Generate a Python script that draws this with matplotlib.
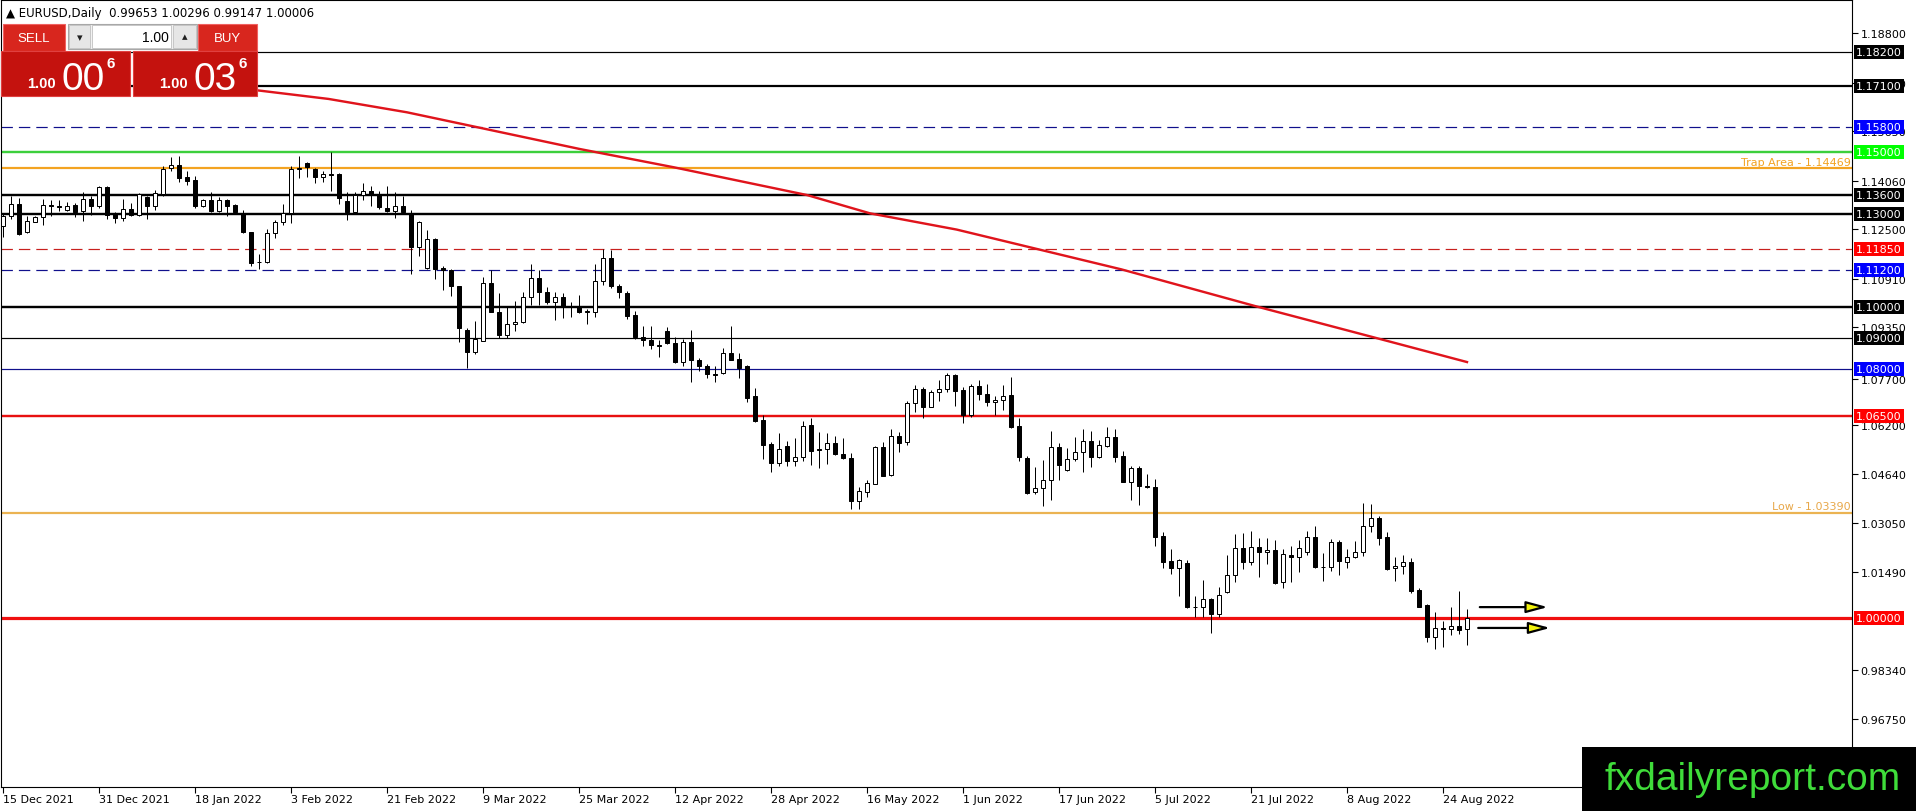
import numpy as np
import matplotlib
matplotlib.use("Agg")
import matplotlib.pyplot as plt
import matplotlib.transforms as mtransforms
from matplotlib.patches import Rectangle

# EURUSD daily candles, 15 Dec 2021 .. 29 Aug 2022
opens = [1.1259, 1.1294, 1.1331, 1.1240, 1.1274, 1.1288, 1.1328, 1.1326, 1.1313, 1.1328,
         1.1310, 1.1347, 1.1326, 1.1386, 1.1302, 1.1285, 1.1315, 1.1297, 1.1353, 1.1326,
         1.1363, 1.1446, 1.1455, 1.1417, 1.1407, 1.1324, 1.1344, 1.1310, 1.1344, 1.1328,
         1.1301, 1.1240, 1.1144, 1.1146, 1.1237, 1.1272, 1.1302, 1.1444, 1.1463, 1.1444,
         1.1417, 1.1428, 1.1428, 1.1340, 1.1306, 1.1361, 1.1372, 1.1361, 1.1317, 1.1310,
         1.1324, 1.1302, 1.1192, 1.1124, 1.1219, 1.1124, 1.1119, 1.1066, 1.0927, 1.0854,
         1.0892, 1.1077, 1.0985, 1.0910, 1.0945, 1.0951, 1.1031, 1.1092, 1.1049, 1.1017,
         1.1031, 1.1004, 1.0999, 1.0985, 1.0983, 1.1085, 1.1157, 1.1066, 1.1045, 1.0974,
         1.0905, 1.0894, 1.0878, 1.0922, 1.0884, 1.0824, 1.0886, 1.0830, 1.0809, 1.0784,
         1.0787, 1.0851, 1.0833, 1.0809, 1.0713, 1.0637, 1.0559, 1.0497, 1.0552, 1.0506,
         1.0519, 1.0621, 1.0543, 1.0543, 1.0563, 1.0527, 1.0513, 1.0377, 1.0404, 1.0431,
         1.0549, 1.0460, 1.0584, 1.0565, 1.0690, 1.0736, 1.0679, 1.0728, 1.0736, 1.0781,
         1.0733, 1.0653, 1.0745, 1.0720, 1.0693, 1.0702, 1.0717, 1.0616, 1.0514, 1.0404,
         1.0417, 1.0444, 1.0549, 1.0476, 1.0511, 1.0533, 1.0570, 1.0519, 1.0552, 1.0581,
         1.0520, 1.0438, 1.0482, 1.0425, 1.0420, 1.0263, 1.0182, 1.0160, 1.0176, 1.0036,
         1.0034, 1.0061, 1.0013, 1.0083, 1.0139, 1.0224, 1.0179, 1.0227, 1.0211, 1.0219,
         1.0115, 1.0203, 1.0195, 1.0211, 1.0259, 1.0165, 1.0165, 1.0243, 1.0179, 1.0195,
         1.0211, 1.0297, 1.0320, 1.0259, 1.0160, 1.0168, 1.0179, 1.0090, 1.0041, 0.9940,
         0.9967, 0.9965, 0.9973, 0.99653]
highs = [1.1299, 1.1358, 1.1349, 1.1294, 1.1294, 1.1347, 1.1345, 1.1345, 1.1337, 1.1334,
         1.1371, 1.1356, 1.1390, 1.1388, 1.1304, 1.1347, 1.1334, 1.1367, 1.1358, 1.1377,
         1.1454, 1.1483, 1.1487, 1.1436, 1.1422, 1.1347, 1.1369, 1.1355, 1.1347, 1.1331,
         1.1313, 1.1242, 1.1172, 1.1251, 1.1280, 1.1331, 1.1454, 1.1487, 1.1467, 1.1446,
         1.1438, 1.1499, 1.1432, 1.1369, 1.1369, 1.1399, 1.1388, 1.1372, 1.1390, 1.1369,
         1.1358, 1.1312, 1.1277, 1.1249, 1.1221, 1.1133, 1.1122, 1.1068, 1.0931, 1.0956,
         1.1095, 1.1119, 1.1045, 1.0999, 1.1020, 1.1047, 1.1138, 1.1120, 1.1064, 1.1047,
         1.1045, 1.1015, 1.1039, 1.0994, 1.1137, 1.1185, 1.1184, 1.1074, 1.1053, 1.0988,
         1.0938, 1.0938, 1.0894, 1.0935, 1.0902, 1.0897, 1.0926, 1.0836, 1.0817, 1.0811,
         1.0867, 1.0940, 1.0851, 1.0815, 1.0738, 1.0654, 1.0565, 1.0595, 1.0568, 1.0579,
         1.0632, 1.0642, 1.0599, 1.0594, 1.0586, 1.0578, 1.0530, 1.0420, 1.0444, 1.0554,
         1.0567, 1.0608, 1.0599, 1.0697, 1.0749, 1.0743, 1.0734, 1.0765, 1.0788, 1.0784,
         1.0742, 1.0752, 1.0765, 1.0752, 1.0713, 1.0749, 1.0774, 1.0642, 1.0520, 1.0484,
         1.0508, 1.0602, 1.0563, 1.0547, 1.0581, 1.0608, 1.0602, 1.0572, 1.0613, 1.0607,
         1.0536, 1.0488, 1.0490, 1.0463, 1.0447, 1.0275, 1.0222, 1.0191, 1.0185, 1.0072,
         1.0122, 1.0065, 1.0099, 1.0203, 1.0270, 1.0273, 1.0279, 1.0256, 1.0256, 1.0251,
         1.0222, 1.0233, 1.0252, 1.0279, 1.0295, 1.0208, 1.0254, 1.0252, 1.0222, 1.0249,
         1.0370, 1.0367, 1.0327, 1.0275, 1.0195, 1.0202, 1.0192, 1.0095, 1.0045, 1.0018,
         0.9991, 1.0034, 1.0088, 1.00296]
lows = [1.1224, 1.1283, 1.1232, 1.1238, 1.1272, 1.1264, 1.1292, 1.1309, 1.1310, 1.1290,
        1.1275, 1.1297, 1.1318, 1.1283, 1.1270, 1.1278, 1.1292, 1.1294, 1.1283, 1.1312,
        1.1356, 1.1436, 1.1401, 1.1393, 1.1317, 1.1321, 1.1306, 1.1307, 1.1292, 1.1300,
        1.1237, 1.1133, 1.1122, 1.1141, 1.1221, 1.1265, 1.1269, 1.1414, 1.1419, 1.1398,
        1.1403, 1.1374, 1.1331, 1.1281, 1.1302, 1.1345, 1.1324, 1.1315, 1.1304, 1.1286,
        1.1302, 1.1106, 1.1165, 1.1122, 1.1090, 1.1056, 1.1034, 1.0886, 1.0803, 1.0849,
        1.0890, 1.0983, 1.0899, 1.0899, 1.0924, 1.0949, 1.1006, 1.1006, 1.1010, 1.0959,
        1.0964, 1.0967, 1.0981, 1.0945, 1.0969, 1.1070, 1.1060, 1.1028, 1.0961, 1.0897,
        1.0873, 1.0865, 1.0838, 1.0881, 1.0821, 1.0809, 1.0758, 1.0795, 1.0771, 1.0758,
        1.0785, 1.0828, 1.0771, 1.0695, 1.0631, 1.0511, 1.0471, 1.0490, 1.0490, 1.0490,
        1.0506, 1.0492, 1.0481, 1.0495, 1.0525, 1.0511, 1.0352, 1.0350, 1.0388, 1.0430,
        1.0456, 1.0458, 1.0533, 1.0557, 1.0661, 1.0642, 1.0677, 1.0697, 1.0726, 1.0681,
        1.0626, 1.0645, 1.0702, 1.0683, 1.0653, 1.0670, 1.0610, 1.0506, 1.0399, 1.0398,
        1.0359, 1.0380, 1.0445, 1.0474, 1.0505, 1.0468, 1.0484, 1.0515, 1.0549, 1.0503,
        1.0436, 1.0380, 1.0363, 1.0419, 1.0233, 1.0161, 1.0141, 1.0072, 1.0031, 1.0002,
        1.0002, 0.9951, 1.0002, 1.0081, 1.0117, 1.0158, 1.0172, 1.0131, 1.0175, 1.0110,
        1.0095, 1.0115, 1.0147, 1.0203, 1.0161, 1.0120, 1.0152, 1.0139, 1.0160, 1.0192,
        1.0198, 1.0275, 1.0235, 1.0154, 1.0120, 1.0141, 1.0079, 1.0034, 0.9924, 0.9900,
        0.9908, 0.9946, 0.9948, 0.99147]
closes = [1.1294, 1.1331, 1.1235, 1.1277, 1.1288, 1.1328, 1.1326, 1.1323, 1.1326, 1.1304,
          1.1347, 1.1326, 1.1386, 1.1297, 1.1285, 1.1315, 1.1297, 1.1363, 1.1326, 1.1367,
          1.1444, 1.1455, 1.1415, 1.1406, 1.1326, 1.1345, 1.1310, 1.1345, 1.1326, 1.1304,
          1.1240, 1.1141, 1.1146, 1.1237, 1.1272, 1.1302, 1.1444, 1.1446, 1.1449, 1.1417,
          1.1428, 1.1426, 1.1349, 1.1304, 1.1361, 1.1372, 1.1361, 1.1323, 1.1310, 1.1324,
          1.1304, 1.1192, 1.1272, 1.1219, 1.1122, 1.1119, 1.1066, 1.0931, 1.0854, 1.0897,
          1.1077, 1.0985, 1.0910, 1.0945, 1.0951, 1.1031, 1.1092, 1.1049, 1.1017, 1.1031,
          1.1002, 1.1002, 1.0983, 1.0985, 1.1085, 1.1157, 1.1066, 1.1047, 1.0972, 1.0905,
          1.0895, 1.0879, 1.0876, 1.0883, 1.0824, 1.0886, 1.0830, 1.0811, 1.0784, 1.0782,
          1.0851, 1.0831, 1.0803, 1.0709, 1.0634, 1.0557, 1.0497, 1.0543, 1.0506, 1.0519,
          1.0618, 1.0538, 1.0541, 1.0563, 1.0527, 1.0513, 1.0377, 1.0407, 1.0433, 1.0549,
          1.0458, 1.0584, 1.0562, 1.0690, 1.0736, 1.0677, 1.0728, 1.0736, 1.0781, 1.0731,
          1.0653, 1.0745, 1.0720, 1.0693, 1.0702, 1.0715, 1.0613, 1.0517, 1.0402, 1.0417,
          1.0445, 1.0549, 1.0493, 1.0511, 1.0533, 1.0570, 1.0519, 1.0556, 1.0581, 1.0519,
          1.0438, 1.0481, 1.0425, 1.0422, 1.0262, 1.0181, 1.0160, 1.0186, 1.0036, 1.0034,
          1.0061, 1.0013, 1.0075, 1.0139, 1.0224, 1.0179, 1.0227, 1.0211, 1.0219, 1.0112,
          1.0205, 1.0195, 1.0224, 1.0259, 1.0165, 1.0163, 1.0243, 1.0182, 1.0195, 1.0211,
          1.0297, 1.0320, 1.0257, 1.0157, 1.0168, 1.0179, 1.0088, 1.0036, 0.9940, 0.9967,
          0.9965, 0.9973, 0.9963, 1.00006]

# moving average (red line), bar index -> value
ma_idx = [30, 32, 40.7, 50.5, 59.3, 72.1, 83.9, 100.5, 108.4, 119.2, 129.5, 139.8, 156.8, 171.7, 183]
ma_val = [1.1702, 1.1696, 1.1669, 1.1626, 1.1578, 1.1508, 1.1449, 1.1360, 1.1301, 1.1249,
          1.1185, 1.1121, 1.1001, 1.0900, 1.0823]

# horizontal levels
level_prices = [1.18200, 1.17100, 1.15800, 1.15000, 1.14469, 1.13600, 1.13000, 1.11850,
                1.11200, 1.10000, 1.09000, 1.08000, 1.06500, 1.03390, 1.00000]
level_colors = ['black', 'black', '#10108c', '#3ccf3c', '#f3a321', 'black', 'black', '#c8201e',
                '#10108c', 'black', 'black', '#10108c', '#e81010', '#ebb352', '#f01010']
level_dashed = [False, False, True, False, False, False, False, True,
                True, False, False, False, False, False, False]
level_px = [1.2, 2.2, 1.2, 2.4, 2.2, 2.4, 2.4, 1.2, 1.2, 2.4, 1.2, 1.2, 2.4, 2.2, 3.2]
level_tag = ['black', 'black', '#0000ff', '#00ff00', None, 'black', 'black', '#ff0000',
             '#0000ff', 'black', 'black', '#0000ff', '#ff0000', None, '#ff0000']

price_ticks = [1.18800, 1.17210, 1.15650, 1.14060, 1.12500, 1.10910, 1.09350, 1.07700,
               1.06200, 1.04640, 1.03050, 1.01490, 0.98340, 0.96750]

date_idx = [0, 12, 24, 36, 48, 60, 72, 84, 96, 108, 120, 132, 144, 156, 168, 180]
date_labels = ['15 Dec 2021', '31 Dec 2021', '18 Jan 2022', '3 Feb 2022', '21 Feb 2022',
               '9 Mar 2022', '25 Mar 2022', '12 Apr 2022', '28 Apr 2022', '16 May 2022',
               '1 Jun 2022', '17 Jun 2022', '5 Jul 2022', '21 Jul 2022', '8 Aug 2022',
               '24 Aug 2022']

arrow_y = [1.0035, 0.9968]
arrow_x0 = [184.6, 184.4]
arrow_x1 = [193.1, 193.4]

W, H = 1916, 812
PX = 0.72  # points per pixel at dpi 100

fig = plt.figure(figsize=(W / 100, H / 100), dpi=100)
ax = fig.add_axes([1 / W, (H - 788) / H, 1851 / W, 787 / H])
ax.set_xlim(-0.25, 231.125)
ax.set_ylim(1 - 169 / 3110, 1 + 618 / 3110)

for sp in ax.spines.values():
    sp.set_color('black')
    sp.set_linewidth(0.8)

# levels
for p, c, d, w in zip(level_prices, level_colors, level_dashed, level_px):
    ls = (0, (9.5, 5)) if d else '-'
    ax.axhline(p, color=c, lw=w * PX, ls=ls, zorder=2)

ax.plot(ma_idx, ma_val, color='#e0141c', lw=2.4 * PX, zorder=3, solid_joinstyle='round')

# candles
o = np.array(opens)
c = np.array(closes)
x = np.arange(len(o))
up = c >= o
ax.vlines(x, lows, highs, color='black', lw=1.0 * PX, zorder=4)
bottom = np.minimum(o, c)
height = np.maximum(np.abs(c - o), 0.00012)
ax.bar(x, height, bottom=bottom, width=0.62, color=np.where(up, 'white', 'black'),
       edgecolor='black', linewidth=1.0 * PX, zorder=5)

# arrows
for yy, x0, x1 in zip(arrow_y, arrow_x0, arrow_x1):
    ax.annotate('', xy=(x1, yy), xytext=(x0, yy),
                arrowprops=dict(arrowstyle='-|>,head_length=1.3,head_width=0.35',
                                mutation_scale=10, lw=1.6, fc='#f2f20c', ec='black',
                                shrinkA=0, shrinkB=0), zorder=6)

trans = mtransforms.blended_transform_factory(ax.transAxes, ax.transData)

# level texts
ax.text(0.9993, 1.14469 + 0.0004, 'Trap Area - 1.14469', transform=trans,
        ha='right', va='bottom', fontsize=8, color='#f3a321', zorder=6)
ax.text(0.9993, 1.03390 + 0.0004, 'Low - 1.03390', transform=trans,
        ha='right', va='bottom', fontsize=8, color='#e8a84a', zorder=6)

# price axis
ax.yaxis.tick_right()
ax.set_yticks(price_ticks)
ax.set_yticklabels(['%.5f' % v for v in price_ticks])
ax.tick_params(axis='y', direction='out', length=4, width=0.8, pad=2, labelsize=8, colors='black')

for p, t in zip(level_prices, level_tag):
    if t is None:
        continue
    ax.text(1.0 + 4 / 1851, p, '%.5f' % p, transform=trans, ha='left', va='center',
            fontsize=8, color='white', clip_on=False, zorder=10,
            bbox=dict(boxstyle='square,pad=0.18', fc=t, ec='none'))

# date axis
ax.set_xticks(date_idx)
ax.set_xticklabels(date_labels)
ax.tick_params(axis='x', direction='out', length=4, width=0.8, pad=1, labelsize=8)
for lab in ax.get_xticklabels():
    lab.set_horizontalalignment('left')

# header text
fig.text(6 / W, 1 - 13 / H, '\u25b2 EURUSD,Daily  0.99653 1.00296 0.99147 1.00006',
         fontsize=8.5, va='center', ha='left', color='black')

# overlay: trade panel and logo (pixel coordinates)
ov = fig.add_axes([0, 0, 1, 1], zorder=5)
ov.set_xlim(0, W)
ov.set_ylim(H, 0)
ov.axis('off')

red_btn = '#d8261e'
red_box = '#c4120e'
ov.add_patch(Rectangle((3, 25), 62, 27, fc=red_btn, ec='#f06060', lw=0.8))
ov.text(34, 38.5, 'SELL', color='white', fontsize=9.5, ha='center', va='center', family='Liberation Sans')
ov.add_patch(Rectangle((68, 25), 129, 25, fc='#f2f2f2', ec='#a8a8a8', lw=0.8))
ov.add_patch(Rectangle((69, 26), 21, 23, fc='#e6e6e6', ec='#c0c0c0', lw=0.6))
ov.add_patch(Rectangle((92, 26), 79, 23, fc='white', ec='#c0c0c0', lw=0.6))
ov.add_patch(Rectangle((173, 26), 23, 23, fc='#e6e6e6', ec='#c0c0c0', lw=0.6))
ov.text(79.5, 38, '\u25be', fontsize=8, ha='center', va='center', color='#202020')
ov.text(184.5, 37.5, '\u25b4', fontsize=8, ha='center', va='center', color='#202020')
ov.text(169, 38, '1.00', fontsize=10, ha='right', va='center', color='black', family='Liberation Sans')
ov.add_patch(Rectangle((198, 25), 59, 27, fc=red_btn, ec='#f06060', lw=0.8))
ov.text(227.5, 38.5, 'BUY', color='white', fontsize=9.5, ha='center', va='center', family='Liberation Sans')

for bx, bw, big in [(1, 129, '00'), (133, 124, '03')]:
    ov.add_patch(Rectangle((bx, 52), bw, 45, fc=red_box, ec='#e04040', lw=0.8))
    ov.text(bx + 26, 88, '1.00', color='white', fontsize=10.5, fontweight='bold',
            ha='left', va='baseline', family='Liberation Sans')
    ov.text(bx + 61, 90, big, color='white', fontsize=28, ha='left', va='baseline',
            family='Liberation Sans')
    ov.text(bx + 106, 64, '6', color='white', fontsize=11, fontweight='bold',
            ha='left', va='center', family='Liberation Sans')

ov.add_patch(Rectangle((1582, 748), W - 1582, H - 748, fc='black', ec='none'))
ov.text(1901, 790, 'fxdailyreport.com', color='#3fdc3a', fontsize=28, ha='right',
        va='baseline', family='Liberation Sans')

fig.savefig('out.png', dpi=100, facecolor='white')
